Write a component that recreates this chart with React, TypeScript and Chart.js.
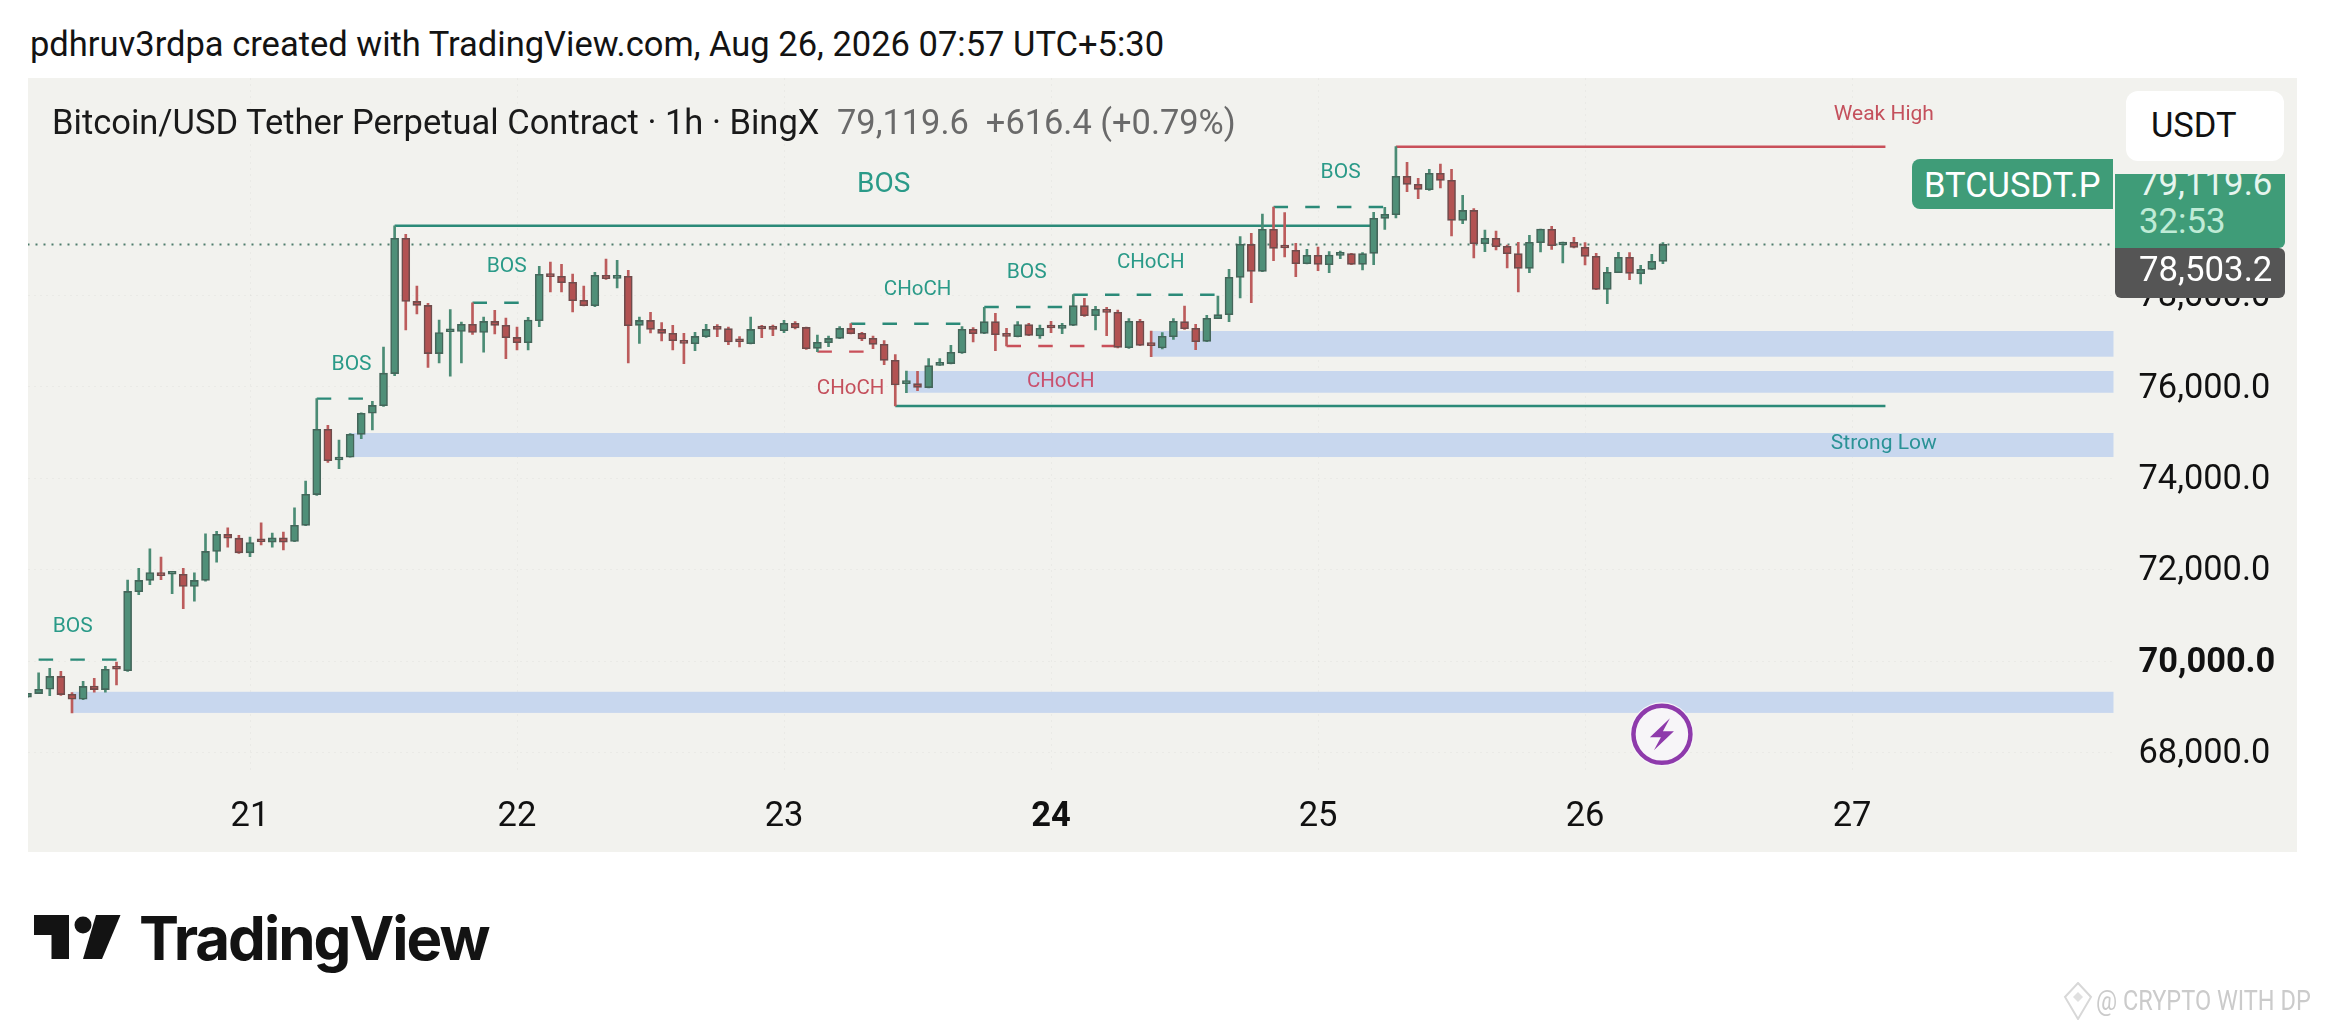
import React, { useEffect, useRef } from "react";
import { Chart, registerables } from "chart.js";

Chart.register(...registerables);

const FONT = "Roboto, sans-serif";

// Hourly candles, index -1 .. 146
const firstIndex = -1;
const opens = [69214,69292,69386,69668,69277,69168,69456,69379,69855,69793,71520,71769,71941,71902,71902,71637,71769,72402,72778,72692,72371,72652,72606,72699,72621,72973,73645,75075,74403,74465,74965,75426,75591,76294,79255,77872,77786,76731,77208,77216,77372,77192,77436,77349,77086,76970,77451,78465,78421,78290,77896,77779,78443,78377,78421,77349,77458,77261,77174,77021,76948,77101,77290,77276,77021,76948,77298,77290,77232,77393,77305,76846,76970,77064,77283,77174,77065,76934,76584,76073,76073,75986,76474,76511,76744,77262,77174,77430,77145,77101,77364,77116,77320,77284,77349,77780,77561,77699,77634,76860,77437,76934,76853,77101,77430,77284,76999,77495,77583,78400,79121,78531,79450,79070,78990,78698,78881,78677,78881,78917,78684,78925,79690,79771,80609,80434,80318,80675,80522,79647,79865,79136,79253,79078,78917,78596,79158,79450,79107,79165,79056,78859,78137,78502,78837,78480,78575,78750];
const highs = [69300,69746,69847,69777,69316,69558,69628,69886,69980,71777,72035,72457,72277,71934,72035,71934,72785,72840,72918,72754,72715,73028,72801,72824,73356,73942,75747,75161,74840,74981,75434,75684,76872,79529,79341,78208,77833,77466,77693,77419,77841,77528,77677,77509,77312,77524,78640,78735,78683,78472,78209,78508,78800,78771,78552,77531,77633,77407,77349,77174,77196,77371,77363,77312,77101,77531,77349,77356,77458,77429,77312,77137,77115,77320,77385,77196,77116,77014,76708,76350,76343,76620,76620,76912,77320,77298,77743,77612,77284,77430,77393,77357,77437,77393,78020,77940,77765,77743,77685,77495,77481,77225,77189,77495,77772,77371,77568,77991,78575,79289,79362,79785,79938,79814,79143,79012,79063,78961,78976,78925,78939,79822,79931,81258,80916,80566,80762,80879,80762,80194,79902,79435,79413,79107,79165,79318,79457,79515,79173,79275,79158,78925,78618,78946,78939,78662,78903,79158];
const lows = [69214,69292,69246,69253,68871,69160,69324,69324,69480,69777,71457,71676,71785,71480,71152,71316,71754,72168,72496,72356,72285,72543,72496,72434,72613,72965,73629,74348,74215,74465,74872,75059,75575,76247,77247,77599,76427,76528,76239,76528,77153,76763,77159,76620,76809,76809,77320,78078,78078,77641,77772,77757,78355,78166,76525,76955,77181,77006,76809,76510,76795,77086,77101,76926,76875,76940,77079,77123,77188,77269,76824,76773,76882,77057,77159,77013,76839,76489,75584,75876,75920,75978,76474,76503,76737,76985,77167,76795,76897,77094,77123,77065,77189,77167,77342,77546,77247,77123,76853,76846,76905,76664,76832,77043,77262,76817,76992,77495,77430,77947,77845,78523,78764,78844,78414,78691,78545,78502,78808,78677,78560,78677,79450,79698,80274,80121,80303,80354,79304,79574,78822,78961,78998,78604,78079,78502,78954,79012,78713,79041,78669,78130,77823,78502,78348,78254,78567,78698];
const closes = [69300,69386,69668,69269,69168,69449,69379,69824,69824,71527,71769,71941,71871,71934,71637,71769,72402,72778,72692,72371,72598,72613,72699,72606,72973,73653,75075,74387,74450,74965,75426,75598,76302,79255,77872,77786,76731,77192,77239,77372,77192,77435,77349,77079,76970,77466,78465,78414,78282,77889,77779,78443,78370,78414,77342,77458,77261,77174,77013,76955,77108,77261,77261,76984,76991,77261,77269,77261,77393,77290,76838,76977,77064,77283,77166,77050,76934,76584,76044,76095,75993,76467,76518,76759,77262,77167,77430,77145,77109,77364,77131,77284,77291,77342,77780,77561,77699,77634,76868,77437,76912,76905,77109,77437,77276,76992,77503,77583,78400,79122,78531,79450,79034,79041,78698,78881,78684,78888,78917,78684,78917,79690,79778,80609,80434,80325,80675,80522,79647,79865,79136,79253,79070,78917,78596,79165,79457,79092,79151,79056,78859,78137,78509,78837,78487,78575,78750,79120];

// Axis
const priceTicks = [68000, 70000, 72000, 74000, 76000, 78000];
const dayTickIndex = [19, 43, 67, 91, 115, 139, 163];
const dayLabels = ["21", "22", "23", "24", "25", "26", "27"];
const boldDay = "24";
const boldPrice = 70000;
const lastPrice = 79119.6;

// Order blocks: start candle, top price, bottom price
const zoneStart = [3, 28, 78, 100];
const zoneTop = [69331, 74993, 76350, 77225];
const zoneBottom = [68869, 74468, 75875, 76663];

// Structure lines: from candle, to candle, price
const solidFrom = [32, 77, 122];
const solidTo = [120, 166, 166];
const solidPrice = [79529, 75584, 81258];
const solidKind = ["up", "up", "down"];
const dashFrom = [0, 25, 39, 73, 85, 93, 111, 70, 87];
const dashTo = [8, 30, 44, 83, 93, 106, 121, 75, 97];
const dashPrice = [70035, 75746, 77844, 77383, 77750, 78020, 79938, 76773, 76897];
const dashKind = ["up", "up", "up", "up", "up", "up", "up", "down", "down"];

// Annotations
const noteText = ["BOS", "BOS", "BOS", "BOS", "CHoCH", "CHoCH", "BOS", "CHoCH", "CHoCH", "BOS", "Weak High", "Strong Low"];
const noteAt = [3.06, 28.13, 42.07, 75.96, 72.99, 79.01, 88.81, 99.96, 91.87, 117.03, 165.85, 165.85];
const notePrice = [70801, 76536, 78691, 80474, 76022, 78173, 78545, 78779, 76160, 80733, 82002, 74818];
const noteKind = ["up", "up", "up", "up", "down", "up", "up", "up", "pink", "up", "down", "low"];
const noteSize = [21, 21, 21, 28, 20.5, 20.5, 21, 20.5, 20.5, 21, 21, 21];
const eventAt = 146;
const eventPrice = 68400;

const lineColor: Record<string, string> = { up: "#2B8A78", down: "#C9505A" };
const noteColor: Record<string, string> = { up: "#2A9A88", down: "#C4505C", pink: "#C9506E", low: "#2A9296" };

const index = opens.map((_, i) => i + firstIndex);
const isUp = opens.map((o, i) => closes[i] >= o);

const overlay: any = {
  id: "overlay",
  beforeDatasetsDraw(chart: any) {
    const { ctx, chartArea: a, scales } = chart;
    ctx.save();
    ctx.fillStyle = "#C8D7EE";
    zoneStart.forEach((s, i) => {
      const x = scales.x.getPixelForValue(s);
      const t = scales.y.getPixelForValue(zoneTop[i]);
      const b = scales.y.getPixelForValue(zoneBottom[i]);
      ctx.fillRect(x, t, a.right - x, b - t);
    });
    ctx.restore();
  },
  afterDatasetsDraw(chart: any) {
    const { ctx, scales } = chart;
    ctx.save();
    ctx.textAlign = "center";
    ctx.textBaseline = "middle";
    noteText.forEach((t, i) => {
      ctx.font = `${noteSize[i]}px ${FONT}`;
      ctx.fillStyle = noteColor[noteKind[i]];
      ctx.fillText(t, scales.x.getPixelForValue(noteAt[i]), scales.y.getPixelForValue(notePrice[i]) + 2.5);
    });
    const cx = scales.x.getPixelForValue(eventAt) - 1;
    const cy = scales.y.getPixelForValue(eventPrice);
    ctx.beginPath();
    ctx.arc(cx, cy, 32, 0, Math.PI * 2);
    ctx.fillStyle = "#F7F5F8";
    ctx.fill();
    ctx.beginPath();
    ctx.arc(cx, cy, 28.5, 0, Math.PI * 2);
    ctx.strokeStyle = "#8E3AAB";
    ctx.lineWidth = 4.5;
    ctx.stroke();
    ctx.beginPath();
    ctx.moveTo(cx + 8, cy - 16);
    ctx.lineTo(cx - 12, cy + 3);
    ctx.lineTo(cx - 1, cy + 3);
    ctx.lineTo(cx - 8, cy + 16);
    ctx.lineTo(cx + 12, cy - 3);
    ctx.lineTo(cx + 1, cy - 3);
    ctx.closePath();
    ctx.fillStyle = "#8E3AAB";
    ctx.fill();
    ctx.restore();
  },
};

const abs = (x: number, y: number, extra: any = {}): any => ({
  position: "absolute",
  left: x,
  top: y,
  fontFamily: FONT,
  whiteSpace: "nowrap",
  ...extra,
});

export default function App() {
  const ref = useRef<HTMLCanvasElement>(null);
  useEffect(() => {
    document.body.style.margin = "0";
    const lines: any[] = [];
    lines.push({
      type: "line",
      data: [{ x: -1, y: lastPrice }, { x: 187, y: lastPrice }],
      borderColor: "#4F7D6C",
      borderWidth: 2,
      borderDash: [2, 6],
      pointRadius: 0,
      order: 4,
    });
    solidFrom.forEach((f, i) =>
      lines.push({
        type: "line",
        data: [{ x: f, y: solidPrice[i] }, { x: solidTo[i], y: solidPrice[i] }],
        borderColor: lineColor[solidKind[i]],
        borderWidth: 2.4,
        pointRadius: 0,
        order: 3,
      })
    );
    dashFrom.forEach((f, i) =>
      lines.push({
        type: "line",
        data: [{ x: f, y: dashPrice[i] }, { x: dashTo[i], y: dashPrice[i] }],
        borderColor: lineColor[dashKind[i]],
        borderWidth: 2.4,
        borderDash: [14.5, 17.2],
        pointRadius: 0,
        order: 3,
      })
    );
    const chart = new Chart(ref.current as HTMLCanvasElement, {
      data: {
        datasets: [
          ...lines,
          {
            type: "bar",
            data: index.map((x, i) => ({ x, y: [lows[i], highs[i]] })),
            backgroundColor: isUp.map((u) => (u ? "#4B8C75" : "#BC5C5C")),
            borderWidth: 0,
            barThickness: 2,
            grouped: false,
            order: 2,
          },
          {
            type: "bar",
            data: index.map((x, i) => ({ x, y: [opens[i], closes[i]] })),
            backgroundColor: isUp.map((u) => (u ? "#4F8F78" : "#B25252")),
            borderColor: isUp.map((u) => (u ? "#44665A" : "#6F4C4C")),
            borderWidth: 1.6,
            borderSkipped: false,
            barThickness: 8,
            minBarLength: 3,
            grouped: false,
            order: 1,
          },
        ],
      } as any,
      options: {
        responsive: false,
        animation: false,
        devicePixelRatio: 1,
        layout: { padding: { left: 28, top: 78, right: 29, bottom: 173 } },
        plugins: { legend: { display: false }, tooltip: { enabled: false }, title: { display: false } },
        scales: {
          x: {
            type: "linear",
            offset: false,
            min: -0.955,
            max: 186.5,
            afterBuildTicks: (s: any) => {
              s.ticks = dayTickIndex.map((value) => ({ value }));
            },
            afterFit: (s: any) => {
              s.height = 80;
            },
            grid: { offset: false, color: "rgba(90,90,90,0.05)", drawTicks: false },
            border: { display: false, dash: [2, 4] },
            ticks: {
              autoSkip: false,
              maxRotation: 0,
              padding: 25,
              color: "#111111",
              callback: (v: any) => dayLabels[dayTickIndex.indexOf(v)] ?? "",
              font: (c: any) => ({
                family: FONT,
                size: 34.5,
                weight: dayLabels[dayTickIndex.indexOf(c.tick?.value)] === boldDay ? "bold" : "normal",
              }),
            },
          },
          y: {
            position: "right",
            min: 67576,
            max: 82761,
            afterBuildTicks: (s: any) => {
              s.ticks = priceTicks.map((value) => ({ value }));
            },
            afterFit: (s: any) => {
              s.width = 183.5;
            },
            grid: { color: "rgba(90,90,90,0.05)", drawTicks: false },
            border: { display: false, dash: [2, 4] },
            ticks: {
              autoSkip: false,
              padding: 25,
              crossAlign: "near",
              labelOffset: 2,
              color: "#111111",
              callback: (v: any) => Number(v).toLocaleString("en-US", { minimumFractionDigits: 1 }),
              font: (c: any) => ({
                family: FONT,
                size: 34.4,
                weight: c.tick?.value === boldPrice ? "bold" : "normal",
              }),
            },
          },
        },
      } as any,
      plugins: [overlay],
    });
    return () => chart.destroy();
  }, []);

  return (
    <div style={{ position: "absolute", left: 0, top: 0, width: 2326, height: 1025, overflow: "hidden", background: "#fff" }}>
      <div style={abs(30, 24, { fontSize: 34.5, lineHeight: "40px", color: "#131313" })}>
        pdhruv3rdpa created with TradingView.com, Aug 26, 2026 07:57 UTC+5:30
      </div>
      <div style={{ position: "absolute", left: 28, top: 78, width: 2269, height: 774, background: "#F2F2EE" }} />
      <canvas ref={ref} width={2326} height={1025} style={{ position: "absolute", left: 0, top: 0, width: 2326, height: 1025 }} />
      <div style={abs(52, 102, { fontSize: 34.5, lineHeight: "40px", color: "#1A1A1A" })}>
        Bitcoin/USD Tether Perpetual Contract · 1h · BingX
      </div>
      <div style={abs(837, 102, { fontSize: 34.4, lineHeight: "40px", color: "#6A6A6A" })}>
        79,119.6 &nbsp;+616.4 (+0.79%)
      </div>
      <div style={abs(2126, 91, { width: 158, height: 70, borderRadius: 12, background: "#fff" })}>
        <div style={{ position: "absolute", left: 25, top: 14, fontSize: 34.5, lineHeight: "40px", color: "#111" }}>USDT</div>
      </div>
      <div style={abs(1912, 159, { width: 201, height: 50, borderRadius: "8px 0 0 8px", background: "#3F9C78" })}>
        <div style={{ position: "absolute", left: 12, top: 6, fontSize: 34.5, lineHeight: "40px", color: "#fff" }}>BTCUSDT.P</div>
      </div>
      <div style={abs(2115, 174, { width: 170, height: 74, overflow: "hidden", background: "#3F9C78", borderRadius: "0 0 6px 0" })}>
        <div style={{ position: "absolute", left: 24, top: -11, fontSize: 34.8, lineHeight: "40px", color: "#E6F5EE" }}>79,119.6</div>
        <div style={{ position: "absolute", left: 24, top: 27, fontSize: 34.8, lineHeight: "40px", color: "#BFEBD6" }}>32:53</div>
      </div>
      <div style={abs(2115, 248, { width: 170, height: 50, background: "#555555", borderRadius: "0 6px 6px 6px" })}>
        <div style={{ position: "absolute", left: 24, top: 1, fontSize: 34.8, lineHeight: "40px", color: "#fff" }}>78,503.2</div>
      </div>
      <svg style={abs(34, 915)} width="87" height="44" viewBox="0 0 87 44">
        <path d="M0 0H35V44H17.5V20H0Z" fill="#131313" />
        <circle cx="49" cy="10" r="8.5" fill="#131313" />
        <path d="M62 0H86.5L68 44H49Z" fill="#131313" />
      </svg>
      <div style={abs(139, 903, { fontFamily: "Inter, sans-serif", fontWeight: 700, fontSize: 60, lineHeight: "70px", letterSpacing: -2, color: "#131313" })}>
        TradingView
      </div>
      <svg style={abs(2063, 982)} width="30" height="38" viewBox="0 0 30 38">
        <path d="M15 1L28 15L15 37L2 15Z" fill="none" stroke="#D8D8D8" strokeWidth="2" />
        <path d="M15 10L20 15L15 20L10 15Z" fill="#E0E0E0" />
      </svg>
      <div style={abs(2096, 985, { fontSize: 28, lineHeight: "32px", color: "#CBCBCB", transform: "scaleX(0.84)", transformOrigin: "left center" })}>@ CRYPTO WITH DP</div>
    </div>
  );
}
